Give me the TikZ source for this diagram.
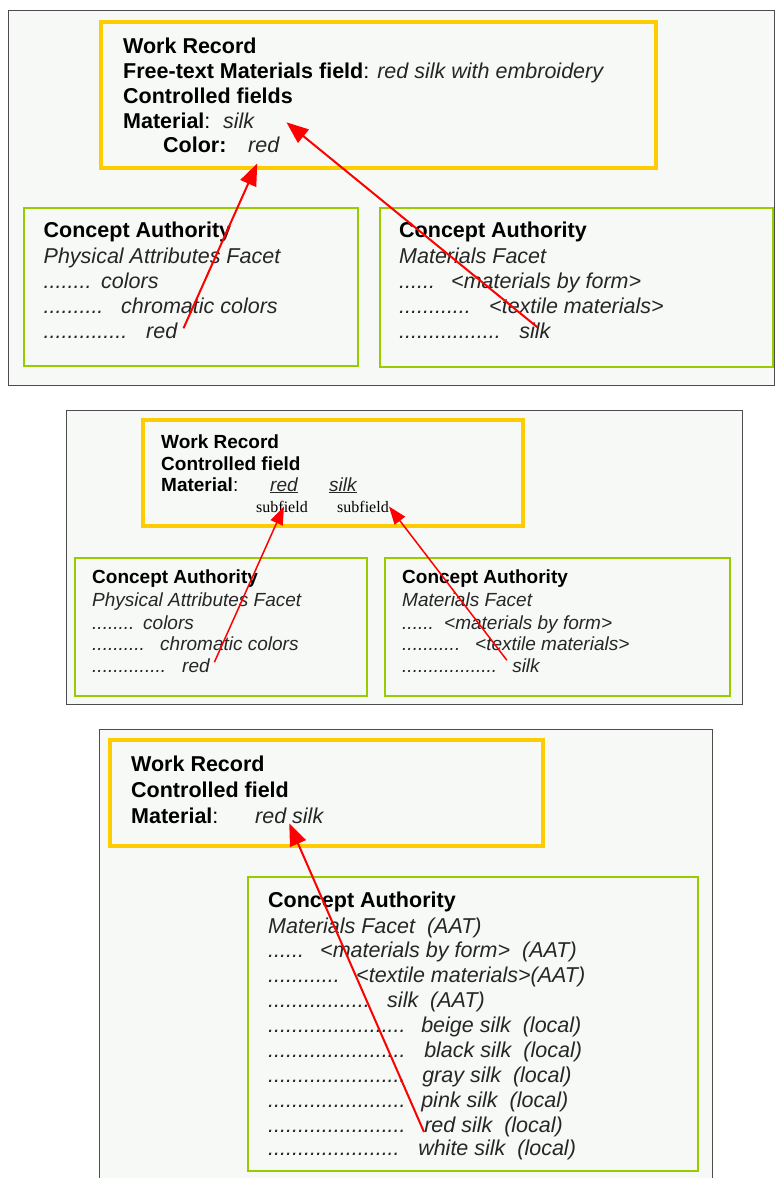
\documentclass[tikz,border=0pt]{standalone}
\usepackage{fontspec}
\setmainfont{Liberation Sans}
\newfontfamily\subfont{Liberation Serif}
\usetikzlibrary{arrows.meta,calc}
\definecolor{wrgold}{RGB}{255,204,0}
\definecolor{cagreen}{RGB}{153,204,0}
\definecolor{panelbg}{RGB}{247,249,246}
\definecolor{linkred}{RGB}{255,0,0}
\tikzset{
  panel/.style={draw=black!70, line width=1pt, fill=panelbg},
  wrbox/.style={draw=wrgold, line width=4pt},
  cabox/.style={draw=cagreen, line width=2.5pt},
  ln/.style={anchor=base west, inner sep=0pt, text=black},
  hd/.style={ln, font=\fontsize{21.5}{25}\selectfont\bfseries},
  catext/.style={ln, text=black!85, font=\fontsize{21.5}{25}\selectfont\itshape},
  hds/.style={ln, font=\fontsize{19}{22}\selectfont\bfseries},
  catsmall/.style={ln, text=black!85, font=\fontsize{19}{22}\selectfont\itshape},
  subf/.style={ln, font=\fontsize{16}{18}\subfont},
  link/.style={-{Triangle[length=22pt,width=17pt]}, line width=2pt, color=linkred},
  links/.style={-{Triangle[length=18pt,width=13pt]}, line width=1.5pt, color=linkred}
}
\newcommand{\lead}[2]{\makebox[#1pt][l]{#2}}

\begin{document}
\begin{tikzpicture}[x=1pt,y=1pt]
  \useasboundingbox (0,0) rectangle (775,-1178);

  % free text + two controlled fields
  \draw[panel] (8,-10) rectangle (774,-385);
  \draw[wrbox] (101,-22) rectangle (656,-168);
  \node[hd] (wr1) at (123,-53) {Work Record};
  \node[hd] (ft1) at (123,-78) {Free-text Materials field\mdseries: \itshape\color{black!85}red silk with embroidery};
  \node[hd] (cf1) at (123,-103) {Controlled fields};
  \node[hd] (mt1) at (123,-128) {Material\mdseries:};
  \node[catext] (silk1) at (223,-128) {silk};
  \node[hd] (co1) at (163,-152) {Color:};
  \node[catext] (red1) at (248,-152) {red};

  \draw[cabox] (24,-208) rectangle (358,-366);
  \node[hd] (ca1) at (43.5,-237) {Concept Authority};
  \node[catext] (pf1) at (43.5,-263) {Physical Attributes Facet};
  \node[catext] (l11) at (43.5,-288) {\lead{57.5}{........}colors};
  \node[catext] (l12) at (43.5,-313) {\lead{77.5}{..........}chromatic colors};
  \node[catext] (cred1) at (43.5,-338) {\lead{102.5}{..............}red};

  \draw[cabox] (380,-208) rectangle (773,-367);
  \node[hd] (ca2) at (399,-237) {Concept Authority};
  \node[catext] (mf1) at (399,-263) {Materials Facet};
  \node[catext] (l21) at (399,-288) {\lead{52}{......}<materials by form>};
  \node[catext] (l22) at (399,-313) {\lead{90}{............}<textile materials>};
  \node[catext] (csilk1) at (399,-338) {\lead{120}{.................}silk};

  \draw[link] ($(cred1.east)+(6,2)$) -- ($(red1.south)+(-6.5,-11)$);
  \draw[link] ($(csilk1.east)+(-13,3)$) -- ($(silk1.east)+(32,-2)$);

  % one field, two subfields
  \draw[panel] (66,-410) rectangle (742,-704);
  \draw[wrbox] (143,-420) rectangle (523,-526);
  \node[hds] (wr2) at (161,-448) {Work Record};
  \node[hds] (cf2) at (161,-470) {Controlled field};
  \node[hds] (mt2) at (161,-491) {Material\mdseries:};
  \node[catsmall] (red2) at (270,-491) {\underline{red}};
  \node[catsmall] (silk2) at (329,-491) {\underline{silk}};
  \node[subf] (sub1) at (256,-512) {subfield};
  \node[subf] (sub2) at (337,-512) {subfield};

  \draw[cabox] (75,-558) rectangle (367,-696);
  \node[hds] (ca3) at (92,-583) {Concept Authority};
  \node[catsmall] (pf2) at (92,-606) {Physical Attributes Facet};
  \node[catsmall] (l31) at (92,-629) {\lead{51}{........}colors};
  \node[catsmall] (l32) at (92,-650) {\lead{68}{..........}chromatic colors};
  \node[catsmall] (cred2) at (92,-672) {\lead{90}{..............}red};

  \draw[cabox] (385,-558) rectangle (730,-696);
  \node[hds] (ca4) at (402,-583) {Concept Authority};
  \node[catsmall] (mf2) at (402,-606) {Materials Facet};
  \node[catsmall] (l41) at (402,-629) {\lead{42}{......}<materials by form>};
  \node[catsmall] (l42) at (402,-650) {\lead{73}{...........}<textile materials>};
  \node[catsmall] (csilk2) at (402,-672) {\lead{110}{..................}silk};

  \draw[links] ($(cred2.east)+(4.5,3)$) -- ($(sub1.center)+(2,0)$);
  \draw[links] ($(csilk2.east)+(-33,5)$) -- (sub2.east);

  % pre-coordinated local term
  \fill[panelbg] (99,-729) rectangle (712,-1178);
  \draw[black!70, line width=1pt] (99,-1178) |- (712,-729) -- (712,-1178);
  \draw[wrbox] (110,-740) rectangle (543,-846);
  \node[hd] (wr3) at (131,-771) {Work Record};
  \node[hd] (cf3) at (131,-797) {Controlled field};
  \node[hd] (mt3) at (131,-823) {Material\mdseries:};
  \node[catext] (rs3) at (255,-823) {red silk};

  \draw[cabox] (248,-877) rectangle (698,-1171);
  \node[hd] (ca5) at (268,-907) {Concept Authority};
  \node[catext] (mf3) at (268,-933) {Materials Facet~ (AAT)};
  \node[catext] (l51) at (268,-957) {\lead{52}{......}<materials by form>~ (AAT)};
  \node[catext] (l52) at (268,-982) {\lead{88}{............}<textile materials>(AAT)};
  \node[catext] (l53) at (268,-1007) {\lead{119}{.................}silk~ (AAT)};
  \node[catext] (l54) at (268,-1032) {\lead{153}{.......................}beige silk~ (local)};
  \node[catext] (l55) at (268,-1057) {\lead{156}{.......................}black silk~ (local)};
  \node[catext] (l56) at (268,-1082) {\lead{154}{.......................}gray silk~ (local)};
  \node[catext] (l57) at (268,-1107) {\lead{153}{.......................}pink silk~ (local)};
  \node[catext] (l58) at (268,-1132) {\lead{156}{.......................}red silk~ (local)};
  \node[catext] (l59) at (268,-1155) {\lead{150}{......................}white silk~ (local)};

  \draw[link] ($(l58.base west)+(156,0)$) -- (rs3.south);
\end{tikzpicture}
\end{document}
